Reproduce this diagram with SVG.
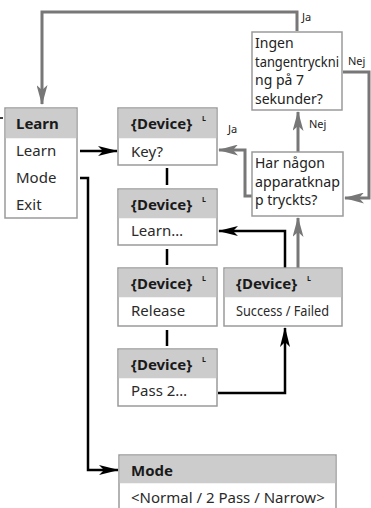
<svg xmlns="http://www.w3.org/2000/svg" width="371" height="508" viewBox="0 0 371 508">
<style>
  text { font-family: "Noto Sans", "DejaVu Sans", sans-serif; }
  .box { fill: #ffffff; stroke: #9a9a9a; stroke-width: 1.5; }
  .hdr { fill: #cccccc; }
  .ht { font-size: 15px; font-weight: bold; fill: #1a1a1a; }
  .bt { font-size: 15px; fill: #2a2a2a; }
  .sup { font-size: 7px; font-weight: bold; fill: #1a1a1a; }
  .qt { font-size: 14px; fill: #222222; }
  .lbl { font-size: 11px; fill: #222222; }
  .blk { fill: none; stroke: #000000; stroke-width: 2.5; }
  .gry { fill: none; stroke: #777777; stroke-width: 3; }
</style>
<defs>
  <marker id="ab" markerUnits="userSpaceOnUse" markerWidth="20" markerHeight="10" refX="19" refY="5" orient="auto">
    <path d="M0,0 L20,5 L0,10 L5,5 Z" fill="#000000"/>
  </marker>
  <marker id="ag" markerUnits="userSpaceOnUse" markerWidth="20" markerHeight="11" refX="19" refY="5.5" orient="auto">
    <path d="M0,0 L20,5.5 L0,11 L5,5.5 Z" fill="#777777"/>
  </marker>
</defs>

<g id="connectors">
  <line x1="0" y1="118" x2="3" y2="118" stroke="#000" stroke-width="1.5"/>
  <path class="gry" d="M297,31 V12 H42 V104" marker-end="url(#ag)"/>
  <path class="gry" d="M343,72 H369 V198 H345" marker-end="url(#ag)"/>
  <path class="gry" d="M298,152 V112" marker-end="url(#ag)"/>
  <path class="gry" d="M252,196 H245 V150 H219" marker-end="url(#ag)"/>
  <path class="gry" d="M298,268 V218" marker-end="url(#ag)"/>
  <path class="blk" d="M80,151 H117" marker-end="url(#ab)"/>
  <path class="blk" d="M80,178 H88 V470 H118" marker-end="url(#ab)"/>
  <line class="blk" x1="167" y1="168" x2="167" y2="185"/>
  <line class="blk" x1="167" y1="249" x2="167" y2="265"/>
  <line class="blk" x1="167" y1="330" x2="167" y2="346"/>
  <path class="blk" d="M218,393 H285 V328" marker-end="url(#ab)"/>
  <path class="blk" d="M285,268 V231 H219" marker-end="url(#ab)"/>
  <text class="lbl" x="302" y="21">Ja</text>
  <text class="lbl" x="348" y="65">Nej</text>
  <text class="lbl" x="309" y="128">Nej</text>
  <text class="lbl" x="228" y="133">Ja</text>
</g>

<g id="learn-menu">
  <rect class="box" x="5" y="108" width="72" height="110"/>
  <rect class="hdr" x="5.75" y="108.75" width="70.5" height="29.5"/>
  <text class="ht" x="16" y="129">Learn</text>
  <text class="bt" x="16" y="156">Learn</text>
  <text class="bt" x="16" y="183">Mode</text>
  <text class="bt" x="16" y="210">Exit</text>
</g>

<g id="device-key">
  <rect class="box" x="118" y="108" width="99" height="57"/>
  <rect class="hdr" x="118.75" y="108.75" width="97.5" height="29.5"/>
  <text class="ht" x="131" y="129">{Device}</text>
  <text class="sup" x="202" y="121">L</text>
  <text class="bt" x="131" y="157">Key?</text>
</g>

<g id="device-learn">
  <rect class="box" x="118" y="189" width="99" height="56"/>
  <rect class="hdr" x="118.75" y="189.75" width="97.5" height="28.5"/>
  <text class="ht" x="131" y="210">{Device}</text>
  <text class="sup" x="202" y="202">L</text>
  <text class="bt" x="131" y="236">Learn…</text>
</g>

<g id="device-release">
  <rect class="box" x="118" y="268" width="99" height="58"/>
  <rect class="hdr" x="118.75" y="268.75" width="97.5" height="28.5"/>
  <text class="ht" x="131" y="289">{Device}</text>
  <text class="sup" x="202" y="281">L</text>
  <text class="bt" x="131" y="316">Release</text>
</g>

<g id="device-success">
  <rect class="box" x="224" y="268" width="118" height="58"/>
  <rect class="hdr" x="224.75" y="268.75" width="116.5" height="28.5"/>
  <text class="ht" x="236" y="289">{Device}</text>
  <text class="sup" x="307" y="281">L</text>
  <text class="bt" x="236" y="316" textLength="93" lengthAdjust="spacingAndGlyphs">Success / Failed</text>
</g>

<g id="device-pass2">
  <rect class="box" x="118" y="349" width="99" height="57"/>
  <rect class="hdr" x="118.75" y="349.75" width="97.5" height="28.5"/>
  <text class="ht" x="131" y="370">{Device}</text>
  <text class="sup" x="202" y="362">L</text>
  <text class="bt" x="131" y="396">Pass 2…</text>
</g>

<g id="mode-box">
  <rect class="box" x="119" y="455" width="217" height="70"/>
  <rect class="hdr" x="119.75" y="455.75" width="215.5" height="27.5"/>
  <text class="ht" x="131" y="476">Mode</text>
  <text class="bt" x="131" y="503">&lt;Normal / 2 Pass / Narrow&gt;</text>
</g>

<g id="no-key-decision">
  <rect class="box" x="252" y="32" width="90" height="78"/>
  <text class="qt" x="255" y="48">Ingen</text>
  <text class="qt" x="255" y="66.5" font-size="13" textLength="84" lengthAdjust="spacingAndGlyphs">tangentryckni</text>
  <text class="qt" x="255" y="85">ng på 7</text>
  <text class="qt" x="255" y="103.5">sekunder?</text>
</g>

<g id="button-decision">
  <rect class="box" x="252" y="152" width="91" height="64"/>
  <text class="qt" x="255" y="168">Har någon</text>
  <text class="qt" x="255" y="186.5" textLength="85" lengthAdjust="spacingAndGlyphs">apparatknap</text>
  <text class="qt" x="255" y="205">p tryckts?</text>
</g>
</svg>
